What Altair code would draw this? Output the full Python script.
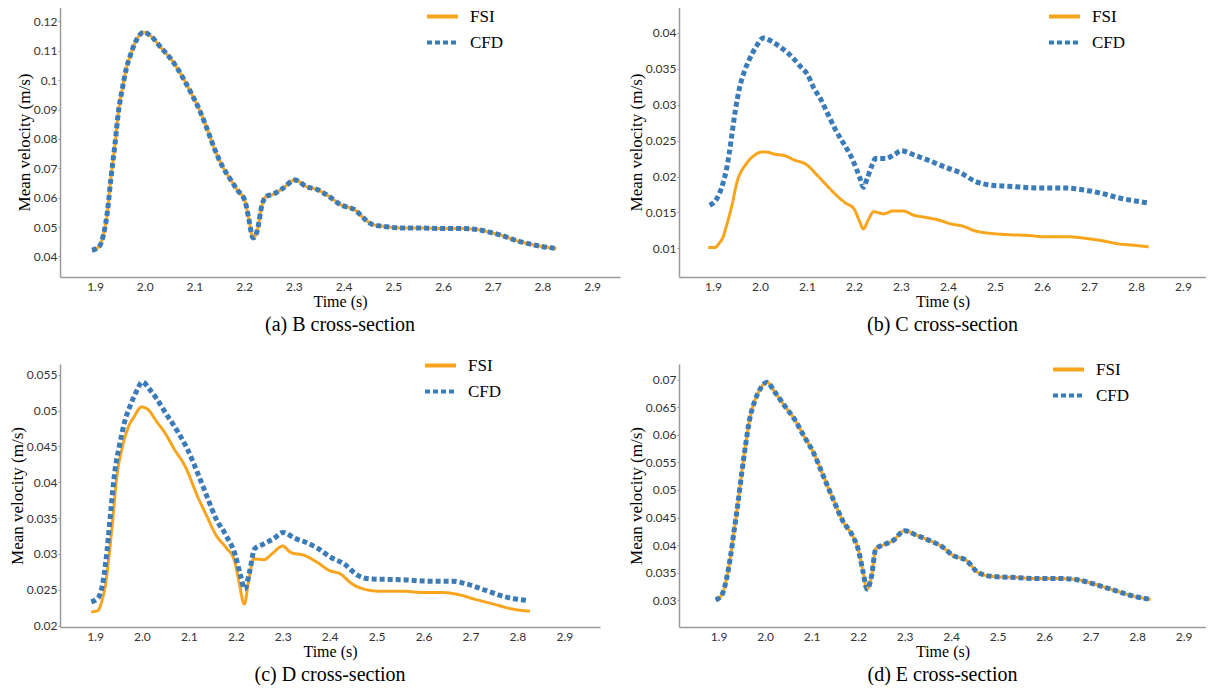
import altair as alt
import pandas as pd

ORANGE = "#F8A51D"
BLUE = "#3B7BB8"
SERIF = "Liberation Serif"
SANS = "Lato"

SERIES = ["FSI", "CFD"]
X_TICKS = [1.9, 2.0, 2.1, 2.2, 2.3, 2.4, 2.5, 2.6, 2.7, 2.8, 2.9]

# ---- (a) B cross-section (FSI and CFD coincide) ----
a_t = [1.894, 1.909, 1.917, 1.925, 1.932, 1.94, 1.948, 1.955, 1.963, 1.971,
       1.982, 1.998, 2.013, 2.032, 2.055, 2.078, 2.094, 2.109, 2.125, 2.14,
       2.155, 2.171, 2.186, 2.202, 2.209, 2.218, 2.226, 2.236, 2.244, 2.259,
       2.278, 2.302, 2.325, 2.348, 2.371, 2.394, 2.425, 2.44, 2.459, 2.478,
       2.517, 2.555, 2.594, 2.632, 2.671, 2.695, 2.717, 2.748, 2.786, 2.828]
a_fsi_v = [0.0421, 0.0435, 0.0474, 0.0553, 0.0666, 0.0779, 0.0903, 0.0971, 0.1039, 0.1084,
           0.1132, 0.1163, 0.1149, 0.1112, 0.1067, 0.1005, 0.0954, 0.0903, 0.0836, 0.0768,
           0.0711, 0.0666, 0.0627, 0.0587, 0.0531, 0.0463, 0.0486, 0.0576, 0.0604, 0.0612,
           0.0632, 0.0660, 0.0638, 0.0627, 0.0604, 0.0576, 0.0556, 0.0531, 0.0508, 0.0503,
           0.0497, 0.0497, 0.0495, 0.0495, 0.0491, 0.0482, 0.0472, 0.0454, 0.0438, 0.0427]
a_cfd_v = [0.0421, 0.0435, 0.0474, 0.0553, 0.0666, 0.0779, 0.0903, 0.0971, 0.1039, 0.1084,
           0.1132, 0.1163, 0.1149, 0.1112, 0.1067, 0.1005, 0.0954, 0.0903, 0.0836, 0.0768,
           0.0711, 0.0666, 0.0627, 0.0587, 0.0531, 0.0463, 0.0486, 0.0576, 0.0604, 0.0612,
           0.0632, 0.0660, 0.0638, 0.0627, 0.0604, 0.0576, 0.0556, 0.0531, 0.0508, 0.0503,
           0.0497, 0.0497, 0.0495, 0.0495, 0.0491, 0.0482, 0.0472, 0.0454, 0.0438, 0.0427]
a_y_ticks = [0.04, 0.05, 0.06, 0.07, 0.08, 0.09, 0.1, 0.11, 0.12]

# ---- (b) C cross-section ----
b_fsi_t = [1.89, 1.904, 1.912, 1.921, 1.929, 1.94, 1.951, 1.97, 1.987, 2.003,
           2.015, 2.032, 2.053, 2.073, 2.098, 2.123, 2.143, 2.164, 2.18, 2.201,
           2.211, 2.22, 2.23, 2.242, 2.263, 2.283, 2.304, 2.328, 2.353, 2.382,
           2.406, 2.431, 2.459, 2.488, 2.527, 2.568, 2.609, 2.658, 2.691, 2.724,
           2.765, 2.799, 2.827]
b_fsi_v = [0.0101, 0.0101, 0.0106, 0.0115, 0.0132, 0.0159, 0.0192, 0.0217, 0.0229, 0.0234,
           0.0234, 0.0231, 0.0229, 0.0223, 0.0217, 0.0201, 0.0187, 0.0173, 0.0164, 0.0154,
           0.0139, 0.0127, 0.0139, 0.0151, 0.0148, 0.0152, 0.0152, 0.0146, 0.0143, 0.0139,
           0.0134, 0.0131, 0.0124, 0.0121, 0.0119, 0.0118, 0.0116, 0.0116, 0.0114, 0.0111,
           0.0106, 0.0104, 0.0102]
b_cfd_t = [1.893, 1.908, 1.921, 1.929, 1.935, 1.941, 1.948, 1.956, 1.966, 1.978,
           1.991, 2.007, 2.028, 2.048, 2.069, 2.085, 2.102, 2.114, 2.129, 2.143,
           2.16, 2.176, 2.193, 2.205, 2.213, 2.22, 2.228, 2.238, 2.246, 2.267,
           2.287, 2.3, 2.328, 2.361, 2.394, 2.427, 2.459, 2.492, 2.541, 2.591,
           2.649, 2.682, 2.724, 2.765, 2.807, 2.827]
b_cfd_v = [0.0160, 0.0169, 0.0190, 0.0211, 0.0234, 0.0262, 0.0294, 0.0322, 0.0345, 0.0364,
           0.0380, 0.0393, 0.0387, 0.0378, 0.0366, 0.0354, 0.0341, 0.0324, 0.0308, 0.0289,
           0.0266, 0.0248, 0.0229, 0.0211, 0.0197, 0.0185, 0.0197, 0.0215, 0.0225, 0.0225,
           0.0231, 0.0236, 0.0230, 0.0222, 0.0213, 0.0205, 0.0193, 0.0188, 0.0186, 0.0184,
           0.0184, 0.0182, 0.0177, 0.0170, 0.0165, 0.0163]
b_y_ticks = [0.01, 0.015, 0.02, 0.025, 0.03, 0.035, 0.04]

# ---- (c) D cross-section ----
c_fsi_t = [1.892, 1.906, 1.914, 1.922, 1.930, 1.938, 1.946, 1.959, 1.971, 1.983,
           1.999, 2.012, 2.032, 2.048, 2.069, 2.093, 2.118, 2.138, 2.158, 2.179,
           2.197, 2.207, 2.218, 2.228, 2.238, 2.26, 2.277, 2.3, 2.317, 2.346,
           2.374, 2.399, 2.423, 2.448, 2.468, 2.505, 2.554, 2.602, 2.643, 2.676,
           2.708, 2.749, 2.79, 2.827]
c_fsi_v = [0.0219, 0.0221, 0.0233, 0.0256, 0.0298, 0.0349, 0.0405, 0.0451, 0.0477, 0.0491,
           0.0505, 0.0502, 0.0484, 0.0470, 0.0446, 0.0421, 0.0381, 0.0353, 0.0326, 0.0309,
           0.0291, 0.0260, 0.0230, 0.0265, 0.0293, 0.0292, 0.0300, 0.0311, 0.0302, 0.0298,
           0.0288, 0.0277, 0.0272, 0.0258, 0.0252, 0.0248, 0.0248, 0.0246, 0.0246, 0.0243,
           0.0237, 0.0230, 0.0223, 0.0220]
c_cfd_t = [1.892, 1.908, 1.918, 1.926, 1.934, 1.942, 1.952, 1.963, 1.975, 1.987,
           2.001, 2.016, 2.032, 2.052, 2.073, 2.097, 2.118, 2.138, 2.158, 2.179,
           2.199, 2.21, 2.219, 2.229, 2.24, 2.26, 2.28, 2.301, 2.325, 2.35,
           2.374, 2.403, 2.431, 2.46, 2.488, 2.554, 2.611, 2.66, 2.692, 2.733,
           2.774, 2.823]
c_cfd_v = [0.0233, 0.0240, 0.0265, 0.0307, 0.0363, 0.0414, 0.0451, 0.0484, 0.0507, 0.0525,
           0.0540, 0.0530, 0.0516, 0.0495, 0.0474, 0.0446, 0.0414, 0.0381, 0.0349, 0.0326,
           0.0298, 0.0270, 0.0251, 0.0274, 0.0307, 0.0314, 0.0321, 0.0330, 0.0322, 0.0316,
           0.0308, 0.0295, 0.0286, 0.0270, 0.0265, 0.0264, 0.0262, 0.0262, 0.0258, 0.0249,
           0.0240, 0.0235]
c_y_ticks = [0.02, 0.025, 0.03, 0.035, 0.04, 0.045, 0.05, 0.055]

# ---- (d) E cross-section (FSI and CFD coincide) ----
d_t = [1.894, 1.908, 1.917, 1.925, 1.933, 1.942, 1.95, 1.958, 1.967, 1.978,
       1.992, 2.004, 2.021, 2.042, 2.063, 2.083, 2.104, 2.125, 2.146, 2.167,
       2.188, 2.2, 2.211, 2.219, 2.229, 2.238, 2.254, 2.275, 2.3, 2.325,
       2.354, 2.379, 2.404, 2.433, 2.458, 2.488, 2.538, 2.588, 2.638, 2.671,
       2.704, 2.746, 2.788, 2.829]
d_fsi_v = [0.0300, 0.0311, 0.0338, 0.0375, 0.0423, 0.0478, 0.0532, 0.0581, 0.0629, 0.0662,
           0.0687, 0.0696, 0.0678, 0.0653, 0.0629, 0.0599, 0.0568, 0.0526, 0.0484, 0.0444,
           0.0417, 0.0393, 0.0350, 0.0320, 0.0344, 0.0393, 0.0400, 0.0408, 0.0426, 0.0418,
           0.0408, 0.0398, 0.0381, 0.0372, 0.0350, 0.0343, 0.0341, 0.0339, 0.0339, 0.0337,
           0.0330, 0.0319, 0.0308, 0.0301]
d_cfd_v = [0.0300, 0.0311, 0.0338, 0.0375, 0.0423, 0.0478, 0.0532, 0.0581, 0.0629, 0.0662,
           0.0687, 0.0696, 0.0678, 0.0653, 0.0629, 0.0599, 0.0568, 0.0526, 0.0484, 0.0444,
           0.0417, 0.0393, 0.0350, 0.0320, 0.0344, 0.0393, 0.0400, 0.0408, 0.0426, 0.0418,
           0.0408, 0.0398, 0.0381, 0.0372, 0.0350, 0.0343, 0.0341, 0.0339, 0.0339, 0.0337,
           0.0330, 0.0319, 0.0308, 0.0301]
d_y_ticks = [0.03, 0.035, 0.04, 0.045, 0.05, 0.055, 0.06, 0.065, 0.07]


def make_df(fsi_t, fsi_v, cfd_t, cfd_v):
    rows = [{"t": t, "v": v, "series": "FSI"} for t, v in zip(fsi_t, fsi_v)]
    rows += [{"t": t, "v": v, "series": "CFD"} for t, v in zip(cfd_t, cfd_v)]
    return pd.DataFrame(rows)


def panel(df, xdom, ydom, yticks, w, h, lx, ly, caption):
    leg = alt.Legend(orient="none", legendX=lx, legendY=ly, title=None,
                     symbolType="stroke", symbolSize=961, symbolStrokeWidth=4,
                     labelFont=SERIF, labelFontSize=17, labelColor="black",
                     labelOffset=10, rowPadding=-4, padding=0)
    color = alt.Color("series:N", sort=SERIES,
                      scale=alt.Scale(domain=SERIES, range=[ORANGE, BLUE]), legend=leg)
    dash = alt.StrokeDash("series:N", sort=SERIES,
                          scale=alt.Scale(domain=SERIES, range=[[1, 0], [5, 3]]), legend=leg)
    x = alt.X("t:Q", scale=alt.Scale(domain=xdom, nice=False, zero=False),
              axis=alt.Axis(values=X_TICKS, format=".1f", title="Time (s)",
                            ticks=False, labelPadding=4, titlePadding=1,
                            titleFontSize=16))
    y = alt.Y("v:Q", scale=alt.Scale(domain=ydom, nice=False, zero=False),
              axis=alt.Axis(values=yticks, format="~g", title="Mean velocity (m/s)",
                            tickSize=2, labelPadding=1, titlePadding=0,
                            titleFontSize=17))
    base = alt.Chart(df)
    fsi = base.transform_filter(alt.datum.series == "FSI").mark_line(
        strokeWidth=3, interpolate="monotone").encode(x=x, y=y, color=color, strokeDash=dash)
    cfd = base.transform_filter(alt.datum.series == "CFD").mark_line(
        strokeWidth=5, interpolate="monotone").encode(x=x, y=y, color=color, strokeDash=dash)
    return alt.layer(fsi, cfd).properties(
        width=w, height=h,
        title=alt.TitleParams(caption, orient="bottom", anchor="middle", frame="group",
                              font=SERIF, fontSize=20, fontWeight="normal",
                              color="black", offset=6))


pa = panel(make_df(a_t, a_fsi_v, a_t, a_cfd_v), [1.8296, 2.956], [0.0330, 0.1249],
           a_y_ticks, 560, 270, 365, -8, "(a) B cross-section")
pb = panel(make_df(b_fsi_t, b_fsi_v, b_cfd_t, b_cfd_v), [1.8277, 2.949], [0.0060, 0.04362],
           b_y_ticks, 527, 270, 368, -8, "(b) C cross-section")
pc = panel(make_df(c_fsi_t, c_fsi_v, c_cfd_t, c_cfd_v), [1.8254, 2.976], [0.0198, 0.0565],
           c_y_ticks, 540, 263, 363, -16, "(c) D cross-section")
pd_ = panel(make_df(d_t, d_fsi_v, d_t, d_cfd_v), [1.815, 2.948], [0.0251, 0.0729],
            d_y_ticks, 527, 263, 372, -12, "(d) E cross-section")

chart = alt.concat(pa, pb, pc, pd_, columns=2, spacing={"row": 87, "column": 59},
                   bounds="flush").resolve_scale(
    x="independent", y="independent", color="independent", strokeDash="independent"
).resolve_legend(color="independent", strokeDash="independent").properties(
    padding={"left": 0, "top": -9, "right": 0, "bottom": 0}
).configure_view(stroke=None).configure_axis(
    grid=False, domainColor="#9a9a9a", domainWidth=1.5, tickColor="#9a9a9a",
    labelFont=SANS, labelFontSize=12, labelColor="#333333",
    titleFont=SERIF, titleFontWeight="normal", titleColor="black")

chart.save("out.html", embed_options={"renderer": "svg", "actions": False})
